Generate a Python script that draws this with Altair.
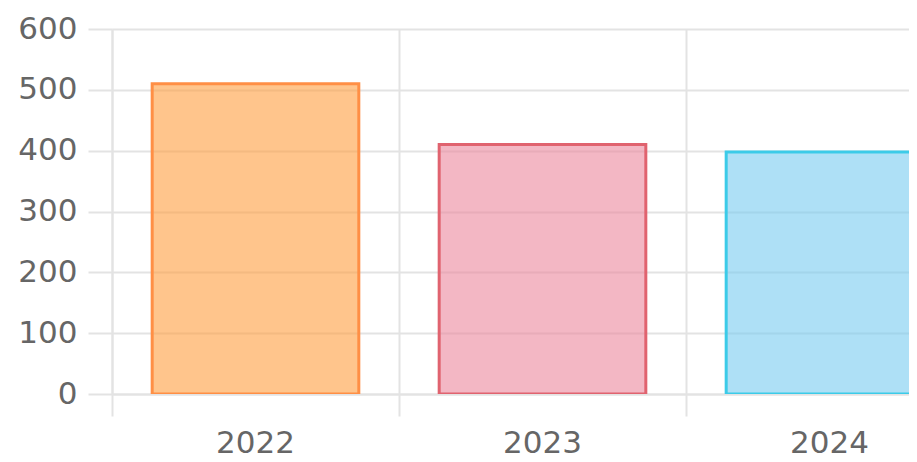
import altair as alt
import pandas as pd

years = ["2022", "2023", "2024"]
values = [510, 410, 398]
fill_colors = ["#FF9E3F", "#EB879D", "#78CBF0"]
stroke_colors = ["#FF8F45", "#E0636F", "#3CCBE8"]
y_ticks = [0, 100, 200, 300, 400, 500, 600]

df = pd.DataFrame({"year": years, "value": values,
                   "fill": fill_colors, "stroke": stroke_colors})

grid_color = "#e3e3e3"
label_font = "DejaVu Sans"

chart = alt.Chart(df).mark_bar(
    width=alt.RelativeBandSize(0.72),
    fillOpacity=0.6,
    strokeWidth=3,
    clip=True,
).encode(
    x=alt.X("year:N", sort=years, title=None,
            scale=alt.Scale(range=[0, 861], paddingInner=0, paddingOuter=0),
            axis=alt.Axis(bandPosition=0, grid=True, gridColor=grid_color, gridWidth=2,
                          tickSize=22, tickColor=grid_color, tickWidth=2,
                          domainColor=grid_color, domainWidth=2,
                          labelAngle=0, labelPadding=36,
                          labelFont=label_font, labelFontSize=31, labelColor="#666666",
                          labelBaseline="alphabetic")),
    y=alt.Y("value:Q", title=None,
            scale=alt.Scale(domain=[0, 600], nice=False),
            axis=alt.Axis(values=y_ticks, grid=True, gridColor=grid_color, gridWidth=2,
                          tickSize=24, tickColor=grid_color, tickWidth=2,
                          domainColor=grid_color, domainWidth=2,
                          labelPadding=11, labelFont=label_font, labelFontSize=31,
                          labelColor="#666666")),
    fill=alt.Fill("fill:N", scale=None),
    stroke=alt.Stroke("stroke:N", scale=None),
).properties(
    width=797,
    height=365,
    autosize=alt.AutoSizeParams(type="none"),
    padding={"left": 104, "top": 21, "right": 0, "bottom": 59},
).configure_view(stroke=None)

chart.save("out.html", embed_options={"renderer": "svg", "actions": False})
